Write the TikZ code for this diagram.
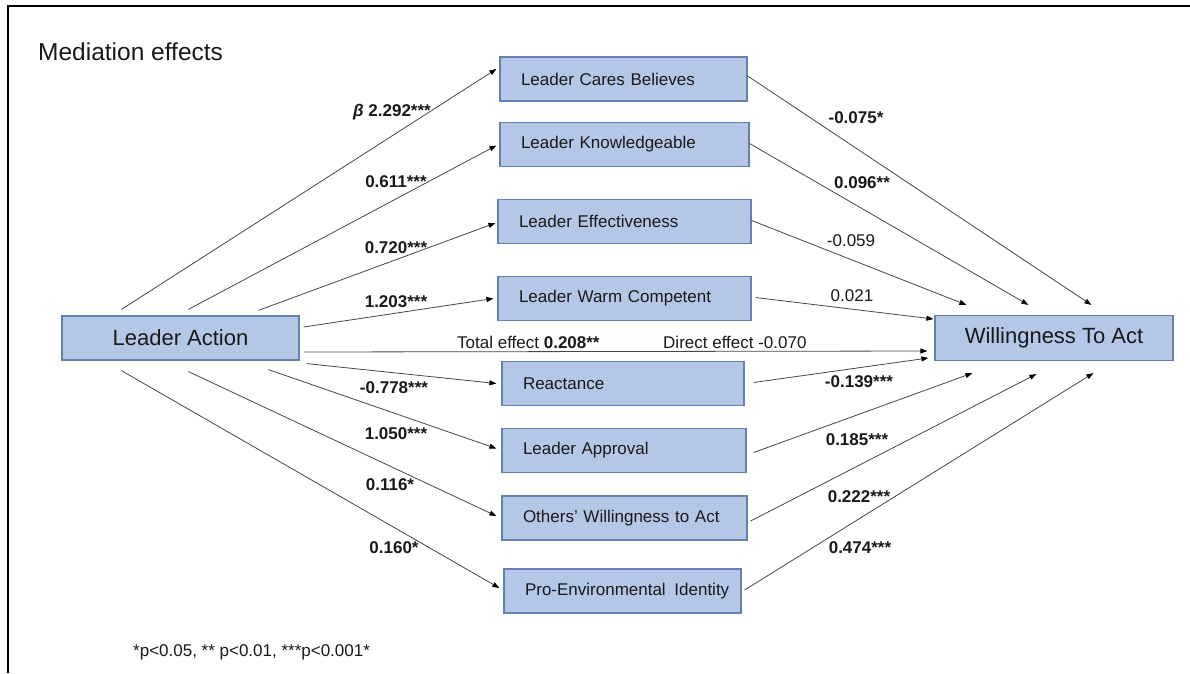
\documentclass[tikz,border=0pt]{standalone}
\usepackage{fontspec}
\setmainfont{Liberation Sans}
\usetikzlibrary{arrows.meta}
\definecolor{boxfill}{RGB}{180,199,231}
\definecolor{boxline}{RGB}{100,128,175}
\definecolor{ink}{RGB}{25,25,25}
\definecolor{wire}{RGB}{70,70,70}
\begin{document}
\begin{tikzpicture}[x=1pt,y=-1pt,
  every node/.style={text=ink},
  mediator/.style={draw=boxline, fill=boxfill, line width=1.2pt,
    inner xsep=21pt, inner ysep=0pt, minimum height=44pt,
    align=left, text width=#1, font=\fontsize{17}{20}\selectfont},
  endbox/.style={draw=boxline, fill=boxfill, line width=1.2pt,
    minimum width=238pt, minimum height=45pt,
    font=\fontsize{22}{26}\selectfont},
  coef/.style={font=\fontsize{17}{20}\selectfont\bfseries, inner sep=0pt},
  coefplain/.style={font=\fontsize{17}{20}\selectfont, inner sep=0pt},
  link/.style={draw=wire, line width=0.8pt,
    -{Triangle[length=7pt,width=5pt,color=black]}}
]
\useasboundingbox (0,0) rectangle (1190,673);

% frame lines along the top and left edges
\draw[line width=2pt] (7.5,673) -- (7.5,6) -- (1190,6);

% title and footnote
\node[anchor=west, inner sep=0pt, font=\fontsize{24.5}{28}\selectfont] (title) at (38,52) {Mediation effects};
\node[anchor=west, coefplain] (note) at (133,652) {*p<0.05, ** p<0.01, ***p<0.001*};

% predictor and outcome
\node[endbox, minimum width=237pt, minimum height=44pt] (la) at (180.5,338) {Leader Action};
\node[endbox] (wta) at (1054,338) {Willingness To Act};

% mediators
\node[mediator=205pt] (m1) at (623.5,79)   {\mbox{Leader Cares Believes}};
\node[mediator=207pt] (m2) at (624.5,144.5) {\mbox{Leader Knowledgeable}};
\node[mediator=211pt] (m3) at (624.5,221.5) {\mbox{Leader Effectiveness}};
\node[mediator=211pt] (m4) at (624.5,298.5) {\mbox{Leader Warm Competent}};
\node[mediator=200pt] (m5) at (623,383.5)   {\mbox{Reactance}};
\node[mediator=202pt] (m6) at (624,450.5)   {\mbox{Leader Approval}};
\node[mediator=203pt] (m7) at (624.5,518)   {\mbox{Others’ Willingness to Act}};
\node[mediator=195pt] (m8) at (622.5,591)   {\mbox{Pro-Environmental\hspace{3pt} Identity}};

% paths a: predictor to mediators
\draw[link] ([shift={(60,-6)}]la.north west)  -- ([shift={(-3,-10)}]m1.west);
\draw[link] ([shift={(127,-6)}]la.north west) -- ([shift={(-3,1)}]m2.west);
\draw[link] ([shift={(197,-5)}]la.north west) -- ([shift={(-2,1.5)}]m3.west);
\draw[link] ([shift={(4,-11)}]la.east)        -- ([shift={(-4,0)}]m4.west);
\draw[link] ([shift={(7,3)}]la.south east)    -- ([shift={(-5,0)}]m5.west);
\draw[link] ([shift={(207,9)}]la.south west)  -- ([shift={(-5,-2)}]m6.west);
\draw[link] ([shift={(127,11)}]la.south west) -- ([shift={(-5,-2)}]m7.west);
\draw[link] ([shift={(60,10)}]la.south west)  -- ([shift={(-4,-3)}]m8.west);

% total / direct effect
\draw[link] ([shift={(4,14)}]la.east) -- ([shift={(-7,13)}]wta.west);

% paths b: mediators to outcome
\draw[link] ([shift={(0,-3)}]m1.east) -- ([shift={(157,-10)}]wta.north west);
\draw[link] ([shift={(0,-1)}]m2.east) -- ([shift={(94,-10)}]wta.north west);
\draw[link] ([shift={(0,-1)}]m3.east) -- ([shift={(32,-10)}]wta.north west);
\draw[link] ([shift={(4,-1)}]m4.east) -- ([shift={(-1,-19)}]wta.west);
\draw[link] ([shift={(9,-1)}]m5.east) -- ([shift={(-6,20)}]wta.west);
\draw[link] ([shift={(7,2)}]m6.east)  -- ([shift={(38,12)}]wta.south west);
\draw[link] ([shift={(3,3)}]m7.east)  -- ([shift={(102,13)}]wta.south west);
\draw[link] ([shift={(3,-1)}]m8.east)  -- ([shift={(159,12)}]wta.south west);

% coefficients, predictor side
\node[coef] (a1) at (392,112) {{\itshape β} 2.292***};
\node[coef] (a2) at (396,182) {0.611***};
\node[coef] (a3) at (396,248) {0.720***};
\node[coef] (a4) at (396,302) {1.203***};
\node[coef] (a5) at (394,388) {-0.778***};
\node[coef] (a6) at (396,434) {1.050***};
\node[coef] (a7) at (390,485) {0.116*};
\node[coef] (a8) at (394,548) {0.160*};

% total and direct effect labels
\node[coefplain, anchor=west] (tot) at (457,342) {Total effect \textbf{0.208**}};
\node[coefplain, anchor=west] (dir) at (663,342) {Direct effect -0.070};

% coefficients, outcome side
\node[coef] (b1) at (856,118) {-0.075*};
\node[coef] (b2) at (862,183) {0.096**};
\node[coefplain] (b3) at (851,241) {-0.059};
\node[coefplain] (b4) at (852,296) {0.021};
\node[coef] (b5) at (859,382) {-0.139***};
\node[coef] (b6) at (857,440) {0.185***};
\node[coef] (b7) at (859,497) {0.222***};
\node[coef] (b8) at (860,548) {0.474***};
\end{tikzpicture}
\end{document}
